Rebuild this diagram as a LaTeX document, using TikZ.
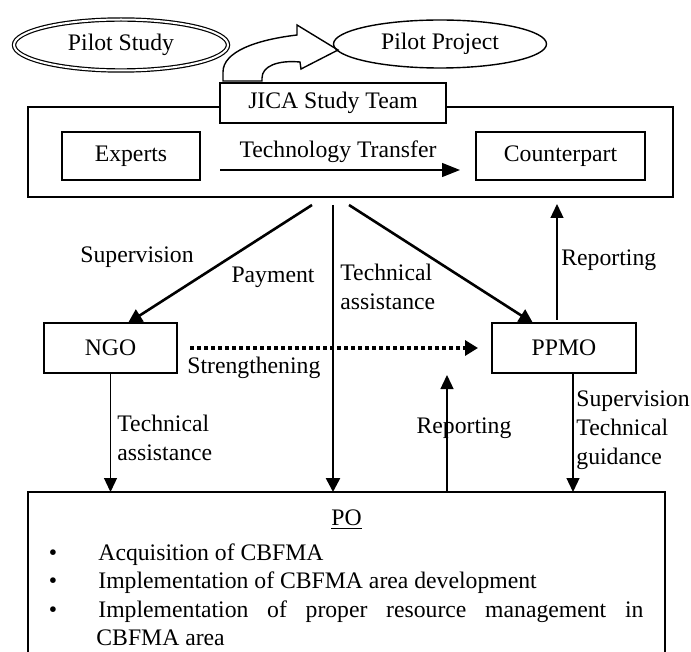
\documentclass[tikz,border=0pt]{standalone}
\usepackage{fontspec}
\setmainfont{Liberation Serif}
\usetikzlibrary{shapes.geometric,arrows.meta,calc}
\begin{document}
\begin{tikzpicture}[x=0.5pt,y=-0.5pt,
  every node/.style={font=\fontsize{11.85pt}{14.5pt}\selectfont},
  box/.style={draw, line width=0.8pt, rectangle, inner sep=0pt, outer sep=0pt, fill=white},
  lbl/.style={inner sep=0pt, anchor=west, align=left},
  thinarrow/.style={line width=0.65pt, -{Triangle[length=7pt,width=6.5pt]}},
  thickarrow/.style={line width=1.3pt, -{Triangle[length=7pt,width=7pt]}},
  dotarrow/.style={line width=1.6pt, dash pattern=on 2pt off 1.5pt, -{Triangle[length=6.5pt,width=7.5pt]}},
]
\useasboundingbox (0,0) rectangle (691,652);

% top: pilot study -> pilot project
\node[draw, ellipse, line width=0.6pt, double, double distance=1pt,
      minimum width=107pt, minimum height=25.5pt, inner sep=0pt] (pstudy) at (121,45) {Pilot Study};
\draw[line width=0.7pt, fill=white] (223,81) -- (223,72) .. controls (223,52) and (255,40) .. (297,35)
  -- (297,25) -- (338,50) -- (301,69) -- (300,62) .. controls (278,60) and (262,66) .. (262,78)
  -- (262,81) -- cycle;
\node[draw, ellipse, line width=0.7pt, minimum width=106.5pt, minimum height=24pt, inner sep=0pt] (pproj) at (440,44) {Pilot Project};

% JICA study team
\node[box, minimum width=322.5pt, minimum height=45pt] (outer) at (350.5,152) {};
\node[box, minimum width=113pt, minimum height=20pt] (jica) at (333,103) {JICA Study Team};
\node[box, minimum width=69pt, minimum height=24pt] (experts) at (131,156) {Experts};
\node[box, minimum width=84.5pt, minimum height=24pt] (counter) at (560.5,156) {Counterpart};
\draw[line width=0.65pt, -{Triangle[length=9pt,width=7pt]}]
  ([xshift=10pt,yshift=-7pt]experts.east) -- ([xshift=-8pt,yshift=-7pt]counter.west);
\node (ttlbl) at (338,152) {Technology Transfer};

% NGO / PPMO
\node[box, minimum width=66.5pt, minimum height=25pt] (ngo) at (110.5,348) {NGO};
\node[box, minimum width=72pt, minimum height=25pt] (ppmo) at (564,348) {PPMO};

% PO
\node[box, fill=none, minimum width=318.5pt, minimum height=88pt] (po) at (346.5,580) {};

\coordinate (s1) at (312,205);
\coordinate (s2) at (333,205);
\coordinate (s3) at (349,205);
\draw[thickarrow] (s1) -- ([xshift=8.75pt]ngo.north);
\draw[thickarrow] (s2) -- (s2 |- po.north);
\draw[thickarrow] (s3) -- ([xshift=-15.5pt]ppmo.north);

\coordinate (rt) at (557,204);
\draw[thinarrow] ($(rt |- ppmo.north)+(0,-3)$) -- (rt);

\draw[dotarrow] ([xshift=6.5pt]ngo.east) -- ([xshift=-7pt]ppmo.west);

\draw[thinarrow] (ngo.south) -- (ngo.south |- po.north);
\coordinate (rm) at (447,375);
\draw[thinarrow] (rm |- po.north) -- (rm);
\coordinate (pd) at (573,373);
\draw[thinarrow] (pd) -- (pd |- po.north);

% labels
\node (lsup) at (137,257) {Supervision};
\node (lpay) at (273,277) {Payment};
\node[lbl] (lta1) at (340,287) {Technical\\assistance};
\node[lbl] (lrep1) at (561,260) {Reporting};
\node[lbl] (lstr) at (187,368) {Strengthening};
\node[lbl] (lta2) at (117,438) {Technical\\assistance};
\node (lrep2) at (464,428) {Reporting};
\node[lbl] (lsup2) at (576,430) {Supervision\\Technical\\guidance};

% PO contents
\node (potitle) at (346.5,520) {\underline{PO}};
\node[anchor=base, inner sep=0pt] (b1) at (53,560) {\textbullet};
\node[anchor=base, inner sep=0pt] (b2) at (53,588.5) {\textbullet};
\node[anchor=base, inner sep=0pt] (b3) at (53,617) {\textbullet};
\node[anchor=base west, inner sep=0pt] (t1) at (98,560) {Acquisition of CBFMA};
\node[anchor=base west, inner sep=0pt] (t2) at (98,588.5) {Implementation of CBFMA area development};
\node[anchor=base west, inner sep=0pt] (t3) at (98,617) {\makebox[272.5pt][s]{Implementation of proper resource management in}};
\node[anchor=base west, inner sep=0pt] (t4) at (96,645.5) {CBFMA area};
\end{tikzpicture}
\end{document}
